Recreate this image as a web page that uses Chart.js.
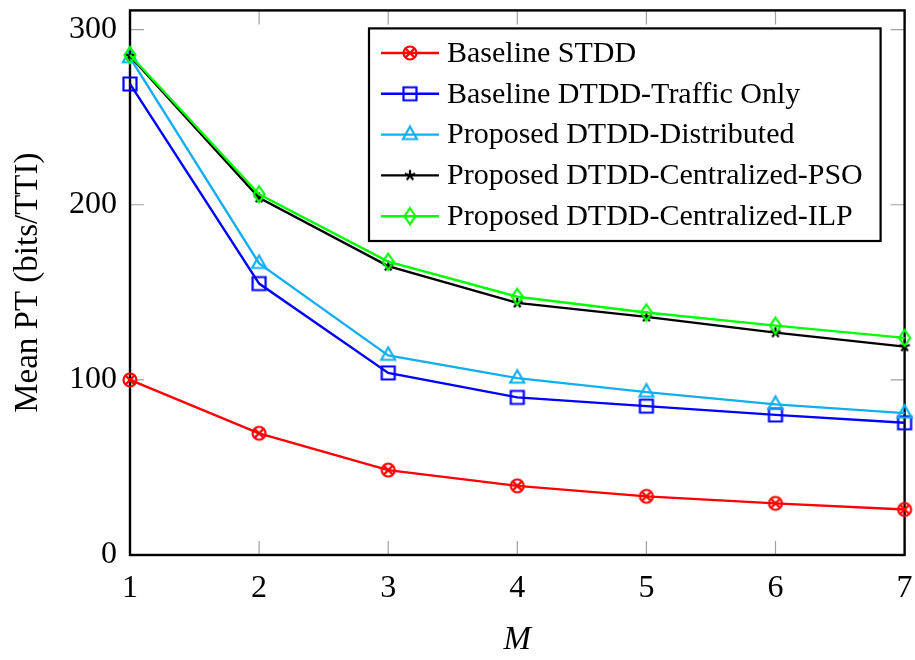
<!DOCTYPE html>
<html>
<head>
<meta charset="utf-8">
<script src="https://cdn.jsdelivr.net/npm/chart.js@4.4.0/dist/chart.umd.min.js"></script>
<style>
  html, body { margin: 0; padding: 0; background: #fff; }
  #wrap { width: 915px; height: 660px; }
</style>
</head>
<body>
<div id="wrap"><canvas id="myChart" width="915" height="660"></canvas></div>
<script>
// values
var mValues = [1, 2, 3, 4, 5, 6, 7];
var yTicks = [0, 100, 200, 300];
var baselineSTDD = [100, 69.5, 48.5, 39.5, 33.5, 29.5, 26];
var baselineTraffic = [269, 155, 104, 90, 85, 80, 75.5];
var propDistributed = [284, 166.5, 114, 101, 93, 86, 81];
var propPSO = [285, 204, 165, 144, 136, 127, 119];
var propILP = [285.5, 206, 167.5, 147.5, 138.5, 131, 124];

var seriesNames = ['Baseline STDD', 'Baseline DTDD-Traffic Only', 'Proposed DTDD-Distributed',
                   'Proposed DTDD-Centralized-PSO', 'Proposed DTDD-Centralized-ILP'];
var seriesColors = ['#ff0000', '#0000ff', '#12aef0', '#000000', '#00ff00'];
var seriesMarks = ['otimes', 'square', 'triangle', 'star', 'diamond'];
var seriesValues = [baselineSTDD, baselineTraffic, propDistributed, propPSO, propILP];

var FONT = '"Liberation Serif", "Times New Roman", serif';

function makeMark(kind, color) {
  var c = document.createElement('canvas');
  c.width = 22; c.height = 22;
  var g = c.getContext('2d');
  g.strokeStyle = color;
  g.lineWidth = 2.2;
  g.lineJoin = 'miter';
  g.beginPath();
  if (kind == 'otimes') {
    g.arc(11, 11, 6.5, 0, Math.PI * 2);
    g.stroke();
    g.beginPath();
    var d = 4.4;
    g.moveTo(11 - d, 11 - d); g.lineTo(11 + d, 11 + d);
    g.moveTo(11 + d, 11 - d); g.lineTo(11 - d, 11 + d);
  } else if (kind == 'square') {
    g.rect(4.5, 4.5, 13, 13);
  } else if (kind == 'triangle') {
    g.moveTo(11, 3); g.lineTo(18, 15.5); g.lineTo(4, 15.5); g.closePath();
  } else if (kind == 'star') {
    for (var i = 0; i < 5; i++) {
      var a = -Math.PI / 2 + i * 2 * Math.PI / 5;
      g.moveTo(11, 11);
      g.lineTo(11 + 5.5 * Math.cos(a), 11 + 5.5 * Math.sin(a));
    }
  } else if (kind == 'diamond') {
    g.moveTo(11, 3); g.lineTo(16.5, 11); g.lineTo(11, 19); g.lineTo(5.5, 11); g.closePath();
  }
  g.stroke();
  return c;
}

var datasets = seriesValues.map(function(vals, i) {
  var mark = makeMark(seriesMarks[i], seriesColors[i]);
  return {
    label: seriesNames[i],
    data: vals.map(function(v, j) { return { x: mValues[j], y: v }; }),
    borderColor: seriesColors[i],
    backgroundColor: seriesColors[i],
    borderWidth: 2.4,
    pointStyle: mark,
    pointRadius: 8,
    pointHoverRadius: 8,
    tension: 0,
    clip: false,
    order: 4 - i,
    _mark: mark
  };
});

// frame with inward grey ticks, like pgfplots
var framePlugin = {
  id: 'frame',
  beforeDatasetsDraw: function(chart) {
    var ctx = chart.ctx, a = chart.chartArea;
    var xs = chart.scales.x, ys = chart.scales.y;
    ctx.save();
    ctx.strokeStyle = '#a0a0a0';
    ctx.lineWidth = 1.2;
    ctx.beginPath();
    mValues.forEach(function(m) {
      var px = xs.getPixelForValue(m);
      ctx.moveTo(px, a.bottom); ctx.lineTo(px, a.bottom - 14);
      ctx.moveTo(px, a.top); ctx.lineTo(px, a.top + 14);
    });
    yTicks.forEach(function(t) {
      var py = ys.getPixelForValue(t);
      ctx.moveTo(a.left, py); ctx.lineTo(a.left + 14, py);
      ctx.moveTo(a.right, py); ctx.lineTo(a.right - 14, py);
    });
    ctx.stroke();
    ctx.strokeStyle = '#000';
    ctx.lineWidth = 2.4;
    ctx.strokeRect(a.left, a.top, a.right - a.left, a.bottom - a.top);
    ctx.restore();
  }
};

var legendPlugin = {
  id: 'boxLegend',
  afterDraw: function(chart) {
    var ctx = chart.ctx, a = chart.chartArea;
    var left = 369, top = a.top + 18, right = a.right - 24, bottom = 241;
    ctx.save();
    ctx.fillStyle = '#fff';
    ctx.fillRect(left, top, right - left, bottom - top);
    ctx.strokeStyle = '#000';
    ctx.lineWidth = 2.2;
    ctx.strokeRect(left, top, right - left, bottom - top);
    ctx.font = '30px ' + FONT;
    ctx.textBaseline = 'middle';
    ctx.fillStyle = '#000';
    chart.data.datasets.forEach(function(ds, i) {
      var y = 53 + i * 40.8;
      ctx.strokeStyle = ds.borderColor;
      ctx.lineWidth = 2.4;
      ctx.beginPath();
      ctx.moveTo(381, y); ctx.lineTo(439, y);
      ctx.stroke();
      ctx.drawImage(ds._mark, 410 - 11, y - 11);
      ctx.fillText(ds.label, 447, y + 1);
    });
    ctx.restore();
  }
};

function noPad(s) {
  s.paddingLeft = 0; s.paddingRight = 0; s.paddingTop = 0; s.paddingBottom = 0;
}

var ctx = document.getElementById('myChart').getContext('2d');
var myChart = new Chart(ctx, {
  type: 'line',
  data: { datasets: datasets },
  options: {
    responsive: false,
    animation: false,
    events: [],
    layout: { padding: { top: 9, right: 7, left: 0, bottom: 0 } },
    plugins: { legend: { display: false }, tooltip: { enabled: false } },
    scales: {
      x: {
        type: 'linear',
        min: 1, max: 7,
        grid: { display: false, drawTicks: false },
        border: { display: false },
        afterBuildTicks: function(s) { s.ticks = mValues.map(function(v) { return { value: v }; }); },
        ticks: { color: '#000', font: { family: FONT, size: 32 }, padding: 14, maxRotation: 0 },
        title: { display: true, text: 'M', color: '#000', padding: { top: 0, bottom: 0 },
                 font: { family: FONT, size: 33, style: 'italic' } },
        afterFit: function(s) { s.height = 105; noPad(s); }
      },
      y: {
        type: 'linear',
        min: 0, max: 311,
        grid: { display: false, drawTicks: false },
        border: { display: false },
        afterBuildTicks: function(s) { s.ticks = yTicks.map(function(v) { return { value: v }; }); },
        ticks: { color: '#000', font: { family: FONT, size: 32 }, padding: 13 },
        title: { display: true, text: 'Mean PT (bits/TTI)', color: '#000', padding: { top: 9, bottom: 0 },
                 font: { family: FONT, size: 33 } },
        afterFit: function(s) { s.width = 130; noPad(s); }
      }
    }
  },
  plugins: [framePlugin, legendPlugin]
});
</script>
</body>
</html>
